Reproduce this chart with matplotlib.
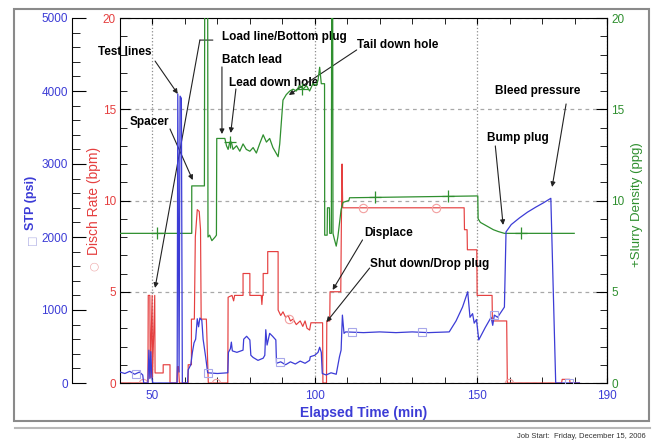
import numpy as np
import matplotlib
matplotlib.use('Agg')
import matplotlib.pyplot as plt
from matplotlib.patches import Rectangle
from matplotlib.lines import Line2D

plt.rcParams['font.family'] = ['Liberation Sans', 'DejaVu Sans']

# ---- data ----
# surface treating pressure (psi)
stp_time = [40.0, 41.5, 43.0, 44.5, 46.0, 47.0, 47.3, 48.6, 48.9, 49.2, 49.5, 49.8, 50.1,
            57.6, 57.8, 58.2, 58.5, 58.9, 59.2, 60.8, 61.0, 61.8, 62.3,
            62.8, 63.3, 63.8, 64.2, 64.6, 65.2, 65.6, 66.4, 67.0, 70.0, 73.2, 73.4, 74.0,
            74.3, 74.6, 76.0, 77.9, 78.1, 79.0, 80.0, 80.3, 81.0, 82.5, 84.1, 84.6, 84.9,
            85.3, 86.1, 87.0, 88.0, 88.2, 89.5, 91.0, 92.5, 94.0, 95.5, 97.0, 98.4, 98.6,
            100.0, 101.0, 101.5, 102.0, 102.3, 103.5, 105.0, 106.6, 107.6, 108.1, 108.5,
            109.0, 109.5, 115.0, 120.0, 125.0, 130.0, 135.0, 141.4, 143.5, 145.5, 147.1,
            147.8, 148.6, 149.1, 149.8, 150.5, 152.5, 154.3, 154.8, 155.3, 156.3, 158.4,
            158.9, 160.5, 163.0, 165.5, 168.1, 170.5, 172.7, 174.2, 176.0, 181.5]
stp_psi = [150, 130, 160, 120, 150, 110, 0, 0, 450, 60, 430, 80, 0,
           0, 3960, 150, 3930, 3900, 0, 0, 180, 250, 420,
           550, 600, 880, 770, 890, 860, 600, 350, 140, 130, 140, 420, 470,
           560, 440, 420, 450, 600, 640, 590, 380, 350, 310, 340, 380, 730,
           520, 680, 640, 590, 270, 290, 250, 290, 260, 300, 270, 310, 360,
           380, 420, 490, 420, 130, 110, 140, 120, 360, 450, 930,
           680, 700, 690, 700, 690, 700, 690, 700, 850, 1040, 1250,
           900, 950, 820, 870, 590, 760, 900, 790, 930, 900, 1040,
           2070, 2170, 2260, 2340, 2410, 2470, 2530, 0, 0, 0]

# discharge rate (bpm)
rate_time = [40.0, 47.0, 48.6, 48.7, 49.2, 49.3, 49.9, 50.0, 50.7, 50.8,
             53.3, 53.3, 55.4, 55.4, 57.5, 57.7, 58.0, 58.3, 61.0, 61.0, 62.0, 62.0, 62.9,
             63.2, 63.8, 64.4, 64.8, 65.0, 66.6, 67.2, 73.2, 73.3, 74.5, 75.0, 75.3, 77.9,
             77.9, 80.0, 80.0, 83.5, 83.7, 83.9, 84.1, 84.1, 85.5, 85.5, 88.7, 88.7, 89.5,
             90.2, 91.0, 91.8, 92.5, 93.3, 94.3, 95.5, 96.3, 97.0, 97.6, 98.4, 98.8, 102.4,
             102.5, 103.6, 103.7, 104.6, 104.7, 108.0, 108.2, 108.4, 108.6, 146.0, 146.1,
             146.9, 147.0, 149.9, 150.0, 154.6, 154.7, 159.1, 159.3, 176.0, 176.2, 178.5,
             178.6, 181.5]
rate_bpm = [0, 0, 0, 4.8, 4.8, 0.3, 4.8, 0.3, 4.8, 0.55,
            0.55, 1.0, 1.0, 0, 0, 0.9, 0.9, 0, 0, 1.0, 1.0, 3.5, 3.5,
            8.0, 9.5, 9.4, 8.4, 3.5, 3.5, 0, 0, 4.7, 4.8, 4.5, 4.8, 4.8,
            6.0, 6.0, 4.8, 4.8, 4.3, 4.8, 4.8, 6.0, 6.0, 7.2, 7.2, 4.0, 3.7,
            3.9, 3.6, 3.7, 3.4, 3.5, 3.2, 3.4, 3.1, 3.4, 3.0, 2.9, 3.3, 3.3,
            0, 0, 3.4, 3.4, 5.0, 5.0, 9.0, 12.0, 9.6, 9.6, 8.4,
            8.4, 7.3, 7.3, 4.8, 4.8, 3.4, 3.4, 0, 0, 0.2, 0.2,
            0, 0]

# slurry density (ppg)
dens_time = [40.0, 62.1, 62.1, 66.0, 66.1, 67.0, 67.1, 67.6, 68.3, 68.8, 69.3, 69.7, 69.8,
             72.3, 72.8, 73.3, 73.8, 74.3, 74.8, 75.9, 76.9, 77.9, 78.9, 80.0, 81.0, 82.0,
             83.0, 84.1, 85.1, 86.1, 87.1, 88.7, 89.2, 90.2, 91.2, 92.3, 93.3, 94.3, 95.3,
             96.4, 97.4, 98.4, 99.4, 100.5, 101.0, 101.5, 102.0, 103.0, 103.05, 103.8,
             103.9, 104.5, 104.6, 105.1, 105.2, 105.5, 105.6, 106.0, 106.6, 107.1, 108.1,
             108.7, 110.5, 110.7, 150.2, 150.3, 151.0, 152.0, 153.0, 154.0, 155.0, 156.5,
             158.4, 179.9]
dens_ppg = [8.2, 8.2, 10.8, 10.8, 22, 22, 8.0, 8.1, 7.8, 7.9, 8.0, 8.1, 13.4,
            13.4, 13.0, 12.8, 13.2, 13.2, 12.8, 13.0, 12.7, 13.1, 12.8, 12.7, 12.9, 12.6,
            13.1, 13.6, 13.2, 13.4, 12.9, 12.4, 13.1, 15.5, 15.8, 16.0, 16.1, 16.0, 16.3,
            16.1, 16.3, 16.0, 16.4, 16.3, 16.6, 17.3, 16.4, 16.4, 8.1, 8.1,
            9.6, 9.6, 8.2, 8.2, 22, 22, 8.2, 7.9, 7.5, 8.0, 9.5,
            9.9, 10.0, 10.15, 10.25, 9.0, 8.8, 8.7, 8.6, 8.5, 8.4, 8.3,
            8.2, 8.2]

# where the legend symbols sit on each trace
stp_mark_time = [45.0, 67.0, 89.2, 111.6, 133.0, 155.3, 178.2]
rate_mark_time = [47.2, 69.6, 92.2, 114.7, 137.4, 159.8]
dens_mark_time = [51.4, 73.8, 96.2, 118.6, 141.0, 163.4]

time_labels = [50, 100, 150, 190]

# (label, text pos, arrow start, arrow tip) in (min, bpm)
notes = [
    ('Test lines', (33.2, 18.14), (50.8, 17.64), (57.8, 15.84)),
    ('Spacer', (43.1, 14.30), (55.4, 13.92), (62.4, 11.12)),
    ('Batch lead', (71.4, 17.70), (71.4, 17.32), (71.4, 13.64)),
    ('Lead down hole', (73.5, 16.44), (75.7, 16.11), (74.1, 13.70)),
    ('Tail down hole', (112.9, 18.52), (112.9, 18.25), (92.0, 15.78)),
    ('Bleed pressure', (155.6, 16.00), (177.4, 15.29), (173.1, 10.74)),
    ('Bump plug', (153.1, 13.42), (155.6, 12.99), (158.0, 8.66)),
    ('Displace', (115.3, 8.22), (114.7, 7.84), (105.5, 5.10)),
    ('Shut down/Drop plug', (116.9, 6.52), (116.9, 6.30), (103.6, 3.34)),
]

blue = '#3c3cd6'
red = '#e53f3f'
green = '#2f8f2f'

W, H = 657, 442
fig = plt.figure(figsize=(W / 100, H / 100), dpi=100)
ax = fig.add_axes([120 / W, 1 - 383 / H, 487 / W, 365 / H])
ax_g = ax.twinx()
ax_b = ax.twinx()

# grid
ax.set_axisbelow(True)
ax.xaxis.grid(True, linestyle=':', color='#8c8c8c', lw=0.9)
ax.yaxis.grid(True, linestyle=(0, (3, 3)), color='#a8a8a8', lw=0.9)

# traces
ax.plot(rate_time, rate_bpm, color=red, lw=0.85)
ax.plot(rate_mark_time, np.interp(rate_mark_time, rate_time, rate_bpm), ls='none',
        marker='o', ms=6, mfc='none', mec='#f2a0a0', mew=0.8)
ax_g.plot(dens_time, dens_ppg, color=green, lw=0.9)
ax_g.plot(dens_mark_time, np.interp(dens_mark_time, dens_time, dens_ppg), ls='none',
          marker='+', ms=8, mec=green, mew=0.9)
ax_b.plot(stp_time, stp_psi, color=blue, lw=0.9)
ax_b.plot(stp_mark_time, np.interp(stp_mark_time, stp_time, stp_psi), ls='none',
          marker='s', ms=6, mfc='none', mec='#a8a8ea', mew=0.8)

# x axis
ax.set_xlim(40, 190)
ax.set_xticks(time_labels)
ax.set_xticks(np.arange(40, 191, 10), minor=True)
ax.tick_params(axis='x', which='both', direction='in', top=True, length=4,
               labelcolor=blue, labelsize=8.5, pad=5)
ax.set_xlabel('Elapsed Time (min)', color=blue, fontsize=10, weight='bold', labelpad=3)

# rate axis (left, on the frame)
ax.set_ylim(0, 20)
ax.set_yticks([0, 5, 10, 15, 20])
ax.set_yticks(np.arange(0, 21, 1), minor=True)
ax.tick_params(axis='y', which='major', direction='in', length=7, labelcolor=red,
               labelsize=8.5, pad=3)
ax.tick_params(axis='y', which='minor', direction='in', length=5)

# density axis (right)
ax_g.set_ylim(0, 20)
ax_g.set_yticks([0, 5, 10, 15, 20])
ax_g.set_yticks(np.arange(0, 21, 1), minor=True)
ax_g.tick_params(axis='y', which='major', direction='in', length=8, labelcolor=green,
                 labelsize=8.5, pad=3)
ax_g.tick_params(axis='y', which='minor', direction='in', length=5)
for s in ['left', 'top', 'bottom']:
    ax_g.spines[s].set_visible(False)

# pressure axis (detached, left)
ax_b.set_ylim(0, 5000)
ax_b.yaxis.tick_left()
ax_b.spines['left'].set_position(('axes', (72 - 120) / 487))
ax_b.spines['left'].set_visible(True)
for s in ['right', 'top', 'bottom']:
    ax_b.spines[s].set_visible(False)
ax_b.set_yticks(np.arange(0, 5001, 1000))
ax_b.set_yticks(np.arange(0, 5001, 200), minor=True)
ax_b.tick_params(axis='y', which='major', direction='in', length=10, labelcolor=blue,
                 labelsize=8.5, pad=3)
ax_b.tick_params(axis='y', which='minor', direction='in', length=6)

# axis titles
fig.text(31 / W, 1 - 203 / H, 'STP (psi)', rotation=90, color=blue, fontsize=9,
         weight='bold', ha='center', va='center')
fig.text(31 / W, 1 - 240 / H, '□', rotation=90, color='#b4b4e6', fontsize=8,
         family=['DejaVu Sans'], ha='center', va='center')
fig.text(94 / W, 1 - 201 / H, 'Disch Rate (bpm)', rotation=90, color=red, fontsize=10,
         ha='center', va='center')
fig.text(94 / W, 1 - 266 / H, '○', rotation=90, color='#f0b0b0', fontsize=8,
         family=['DejaVu Sans'], ha='center', va='center')
fig.text(637 / W, 1 - 205 / H, '+Slurry Density (ppg)', rotation=90, color=green,
         fontsize=9.5, ha='center', va='center')

# callouts
arrow = dict(arrowstyle='-|>', color='#222222', lw=0.8, mutation_scale=7,
             shrinkA=0, shrinkB=0)
for label, txt, start, tip in notes:
    ax.text(txt[0], txt[1], label, fontsize=8.5, weight='bold', ha='left', va='center',
            clip_on=False)
    ax.annotate('', xy=tip, xytext=start, arrowprops=arrow, annotation_clip=False)

# load line / bottom plug has a bent leader
ax.text(71.4, 18.96, 'Load line/Bottom plug', fontsize=8.5, weight='bold',
        ha='left', va='center')
ax.annotate('', xy=(64.6, 18.79), xytext=(68.6, 18.79),
            arrowprops=dict(arrowstyle='-', color='#222222', lw=0.8, shrinkA=0, shrinkB=0))
ax.annotate('', xy=(50.8, 5.21), xytext=(64.6, 18.79), arrowprops=arrow)

# page frame and footer
fig.patches.append(Rectangle((14 / W, 21 / H), 635 / W, 412 / H, transform=fig.transFigure,
                             fill=False, edgecolor='#8a8a8a', lw=1.5))
fig.lines.append(Line2D([15 / W, 650 / W], [14 / H, 14 / H], transform=fig.transFigure,
                        color='#b8b8b8', lw=1.5))
fig.text(646 / W, 5 / H, 'Job Start:  Friday, December 15, 2006', fontsize=5.5,
         color='#333333', ha='right', va='center')

fig.savefig('out.png', dpi=100)
